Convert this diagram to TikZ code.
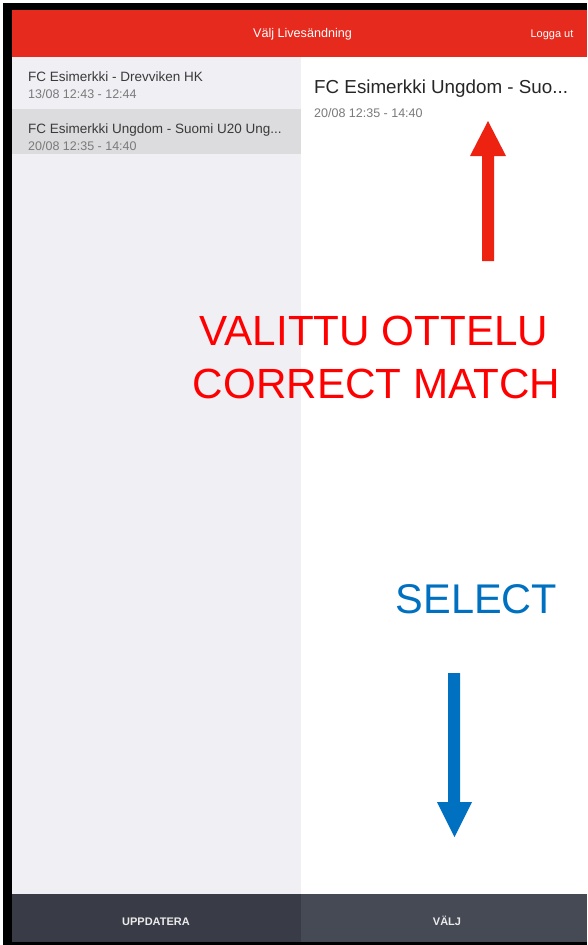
\documentclass[tikz,border=0pt]{standalone}
\usepackage{fontspec}
\setmainfont{Liberation Sans}
\definecolor{hdr}{HTML}{E62A1E}
\definecolor{leftbg}{HTML}{EFEFF4}
\definecolor{selbg}{HTML}{DCDCDE}
\definecolor{barL}{HTML}{393C46}
\definecolor{barR}{HTML}{454A55}
\definecolor{txtdark}{HTML}{3A3A3A}
\definecolor{txtgray}{HTML}{7A7A7A}
\definecolor{annred}{HTML}{FF0000}
\definecolor{arrred}{HTML}{EE2211}
\definecolor{annblue}{HTML}{0070C0}
\tikzset{
  apptitle/.style={anchor=base west, inner sep=0pt, text=txtdark, font=\fontsize{13.5}{15}\selectfont},
  appdate/.style={anchor=base west, inner sep=0pt, text=txtgray, font=\fontsize{12.5}{14}\selectfont},
  hdrtext/.style={anchor=base, inner sep=0pt, text=white, font=\fontsize{12.6}{14}\selectfont},
  bartext/.style={anchor=base, inner sep=0pt, text=white!92!black, font=\bfseries\fontsize{11}{13}\selectfont},
  bigred/.style={anchor=base, inner sep=0pt, text=annred, font=\fontsize{42.2}{50}\selectfont},
  bigblue/.style={anchor=base, inner sep=0pt, text=annblue, font=\fontsize{41.5}{48}\selectfont},
}
\begin{document}
\begin{tikzpicture}[x=1pt,y=-1pt]
\useasboundingbox (0,0) rectangle (587,945);
\fill[white] (0,0) rectangle (587,945);
% frame
\fill[black] (3,3) rectangle (587,945);
% header
\fill[hdr] (12,10) rectangle (587,57);
% panels
\fill[leftbg] (12,57) rectangle (301,894);
\fill[white] (301,57) rectangle (587,894);
\fill[selbg] (12,109) rectangle (301,154);
% bottom bar
\fill[barL] (12,894) rectangle (301,942);
\fill[barR] (301,894) rectangle (587,942);
% header texts
\node[hdrtext] (hdrtitle) at (302.5,37) {Välj Livesändning};
\node[hdrtext, font=\fontsize{11}{13}\selectfont] (logout) at (552,37) {Logga ut};
% list
\node[apptitle] (m1) at (28,81) {FC Esimerkki - Drevviken HK};
\node[appdate] (d1) at (28,98) {13/08 12:43 - 12:44};
\node[apptitle] (m2) at (28,133) {FC Esimerkki Ungdom - Suomi U20 Ung...};
\node[appdate] (d2) at (28,150) {20/08 12:35 - 14:40};
% detail
\node[apptitle, font=\fontsize{18.8}{21}\selectfont, text=black!85] (dt) at (314,93) {FC Esimerkki Ungdom - Suo...};
\node[appdate] (dd) at (314,117) {20/08 12:35 - 14:40};
% bottom bar texts
\node[bartext] (upd) at (156,925) {UPPDATERA};
\node[bartext] (valj) at (447,925) {VÄLJ};
% annotations
\node[bigred] (l1) at (374,345) {VALITTU OTTELU};
\node[bigred] (l2) at (376.5,398) {CORRECT MATCH};
\node[bigblue] (sel) at (476.5,613) {SELECT};
% red arrow up
\fill[arrred] (482,261) -- (482,156) -- (470,156) -- (488,121) -- (506,156) -- (494,156) -- (494,261) -- cycle;
% blue arrow down
\fill[annblue] (448,673) -- (448,802) -- (437,802) -- (454.5,837) -- (472,802) -- (460,802) -- (460,673) -- cycle;
\end{tikzpicture}
\end{document}
